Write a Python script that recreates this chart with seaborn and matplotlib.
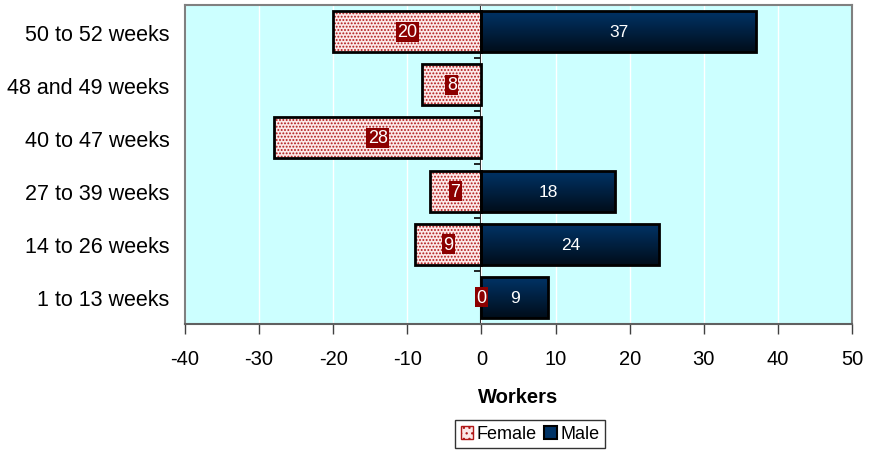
import numpy as np
import pandas as pd
import matplotlib
matplotlib.use("Agg")
import matplotlib.pyplot as plt
import seaborn as sns
from matplotlib.colors import LinearSegmentedColormap
from matplotlib.patches import Patch

categories = ["50 to 52 weeks", "48 and 49 weeks", "40 to 47 weeks",
              "27 to 39 weeks", "14 to 26 weeks", "1 to 13 weeks"]
female = [20, 8, 28, 7, 9, 0]
male = [37, 0, 0, 18, 24, 9]
xticks = [-40, -30, -20, -10, 0, 10, 20, 30, 40, 50]
xlabel = "Workers"
legend_labels = ["Female", "Male"]

sns.set_style("white")
plt.rcParams['font.family'] = ['Liberation Sans', 'DejaVu Sans']
plt.rcParams['hatch.linewidth'] = 0.9
for k in ["text.color", "axes.labelcolor", "xtick.labelcolor", "ytick.labelcolor"]:
    plt.rcParams[k] = "black"

BG = "#CCFFFF"
DARKRED = "#B01818"
LBLRED = "#8B0000"
NAVY_TOP = "#003366"
NAVY_BOT = "#000D1A"
FRAME = "#808080"
HATCH = "....."

fig = plt.figure(figsize=(8.78, 4.52), dpi=100)
ax = fig.add_axes([0.2107, 0.281, 0.7597, 0.7057])
ax.set_facecolor(BG)

df = pd.DataFrame({"cat": categories,
                   "female": [-v for v in female],
                   "male": male})

bw = 0.77
# female hatched fill
n0 = len(ax.patches)
sns.barplot(data=df, x="female", y="cat", order=categories, orient="h",
            color="white", width=bw, errorbar=None, ax=ax)
fpatches = ax.patches[n0:]
for p in fpatches:
    p.set_facecolor("#FBE8E8")
    p.set_edgecolor(DARKRED)
    p.set_hatch(HATCH)
    p.set_linewidth(0)
    p.set_zorder(2)
    if p.get_width() == 0:
        p.set_visible(False)
# female border
n1 = len(ax.patches)
sns.barplot(data=df, x="female", y="cat", order=categories, orient="h",
            color="white", width=bw, errorbar=None, ax=ax)
for p in ax.patches[n1:]:
    p.set_facecolor("none")
    p.set_edgecolor("black")
    p.set_linewidth(2)
    p.set_zorder(3)
    if p.get_width() == 0:
        p.set_visible(False)
# male
n2 = len(ax.patches)
sns.barplot(data=df, x="male", y="cat", order=categories, orient="h",
            color=NAVY_TOP, width=bw, errorbar=None, ax=ax)
mpatches = ax.patches[n2:]

ax.set_xlim(xticks[0], xticks[-1])
ylim = ax.get_ylim()

cmap = LinearSegmentedColormap.from_list("navy", [NAVY_TOP, NAVY_BOT])
grad = np.linspace(0, 1, 100).reshape(-1, 1)
for p in mpatches:
    if p.get_width() == 0:
        p.set_visible(False)
        continue
    bb = p.get_bbox()
    im = ax.imshow(grad, extent=[bb.x0, bb.x1, bb.y0, bb.y1], origin="lower",
                   aspect="auto", cmap=cmap, zorder=2.5, interpolation="bicubic")
    im.set_clip_path(p)
    p.set_facecolor("none")
    p.set_edgecolor("black")
    p.set_linewidth(2)
    p.set_zorder(3)

ax.set_xlim(xticks[0], xticks[-1])
ax.set_ylim(ylim)

# labels
for p, v in zip(fpatches, female):
    bb = p.get_bbox()
    cx = (bb.x0 + bb.x1) / 2
    cy = (bb.y0 + bb.y1) / 2
    ax.text(cx, cy, str(v), ha="center", va="center", color="white",
            fontsize=13, zorder=5,
            bbox=dict(boxstyle="square,pad=0.08", facecolor=LBLRED, edgecolor="none"))
for p, v in zip(mpatches, male):
    if v == 0:
        continue
    bb = p.get_bbox()
    ax.text((bb.x0 + bb.x1) / 2, (bb.y0 + bb.y1) / 2, str(v), ha="center",
            va="center", color="white", fontsize=12.5, zorder=5)

# axes styling
ax.set_xticks(xticks)
ax.set_xticklabels([str(t) for t in xticks], fontsize=14.5)
ax.grid(axis="x", color="white", linewidth=1)
ax.grid(axis="y", visible=False)
ax.set_axisbelow(True)
ax.tick_params(axis="x", direction="out", length=7, width=1, color="#404040",
               bottom=True, pad=11)
ax.tick_params(axis="y", length=0, labelsize=15.5, pad=11)
ax.set_ylabel("")
ax.set_xlabel(xlabel, fontsize=14.5, fontweight="bold", labelpad=14)
for side in ["top", "right", "left"]:
    ax.spines[side].set_color(FRAME)
    ax.spines[side].set_linewidth(1.5)
ax.spines["bottom"].set_color("#606060")
ax.spines["bottom"].set_linewidth(1.5)

# zero axis with boundary ticks
loc0 = (0 - xticks[0]) / (xticks[-1] - xticks[0])
sec = ax.secondary_yaxis(loc0)
sec.set_yticks(np.arange(-0.5, len(categories), 1.0))
sec.set_yticklabels([])
sec.tick_params(axis="y", direction="out", length=5, width=1.2, color="black")
sec.spines["left"].set_color("black")
sec.spines["left"].set_linewidth(1.5)

handles = [Patch(facecolor="#FBE8E8", edgecolor=DARKRED, hatch="..."),
           Patch(facecolor=NAVY_TOP, edgecolor="black", linewidth=1.5)]
leg = fig.legend(handles, legend_labels, loc="center", ncol=2,
                 bbox_to_anchor=(530 / 878, 1 - 435 / 452), frameon=True,
                 fancybox=False, edgecolor="black", fontsize=13,
                 handlelength=0.7, handleheight=0.7, handletextpad=0.2,
                 columnspacing=0.4, borderpad=0.3, borderaxespad=0)
leg.get_frame().set_linewidth(1)

fig.savefig("out.png", dpi=100, facecolor="white")
